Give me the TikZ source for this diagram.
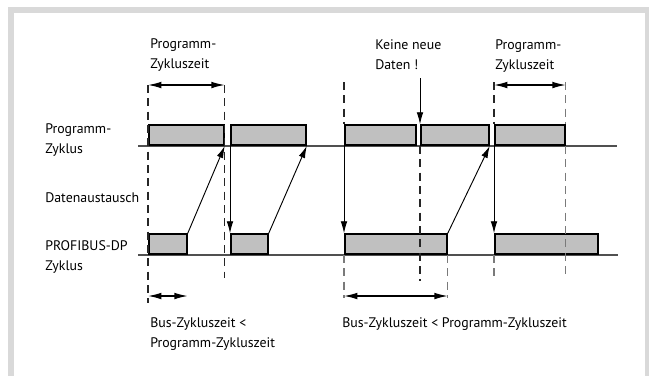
\documentclass[tikz,border=0pt]{standalone}
\usepackage{fontspec}
\setmainfont{PT Sans}
\usepackage{tikz}
\usetikzlibrary{arrows.meta, positioning}
\definecolor{FrameGray}{HTML}{D9D9D9}
\definecolor{BoxGray}{HTML}{C0C0C0}
\definecolor{AxisGray}{HTML}{505050}
\definecolor{GuideGray}{HTML}{7A7A7A}

\begin{document}
\begin{tikzpicture}[x=0.75pt, y=-0.75pt,
    cycbox/.style={draw=black, line width=1.3pt, fill=BoxGray, inner sep=0pt,
        minimum height=15pt, minimum width=#1*0.75pt, anchor=south west},
    timeline/.style={AxisGray, line width=0.8pt},
    guide/.style={dash pattern=on 6pt off 4pt, line width=0.8pt, black!85},
    guidelight/.style={guide, GuideGray},
    flow/.style={-{Latex[length=9pt, width=5pt]}, line width=0.7pt},
    span/.style={{Latex[length=10pt, width=5pt]}-{Latex[length=10pt, width=5pt]}, line width=1pt},
    lbl/.style={font=\fontsize{10.4}{15.5}\selectfont, align=left, anchor=north west, inner sep=0pt}]

    % page frame: grey band on top, left and right
    \useasboundingbox (0,0) rectangle (649,376);
    \fill[FrameGray] (8,7) rectangle (649,376);
    \fill[white] (14,13) rectangle (645,376);

    % === time lines ===
    \draw[timeline] (138,146) -- (617,146);
    \draw[timeline] (138,255) -- (618,255);

    % === Programm-Zyklus (upper row) ===
    \node[cycbox=75] (prg1) at (148,146) {};
    \node[cycbox=75] (prg2) at (230,146) {};
    \node[cycbox=71] (prg3) at (344,146) {};
    \node[cycbox=68] (prg4) at (420,146) {};
    \node[cycbox=70] (prg5) at (494,146) {};

    % === PROFIBUS-DP Zyklus (lower row) ===
    \node[cycbox=38] (bus1) at (148,255) {};
    \node[cycbox=37] (bus2) at (230,255) {};
    \node[cycbox=102] (bus3) at (344,255) {};
    \node[cycbox=103] (bus4) at (494,255) {};

    % === dashed guides ===
    \draw[guide] (prg1.south west |- 0,85) -- (prg1.south west |- 0,303);
    \draw[guide] (prg1.south east |- 0,85) -- (prg1.south east |- 0,278);
    \draw[guide] (prg3.north west |- 0,82) -- (prg3.north west);
    \draw[guidelight] (bus3.south west) -- (bus3.south west |- 0,298);
    \draw[guide] (prg4.south west) -- (prg4.south west |- 0,281);
    \draw[guidelight] (bus3.south east) -- (bus3.south east |- 0,298);
    \draw[guide] (prg5.north west |- 0,82) -- (prg5.north west);
    \draw[guidelight] (bus4.south west) -- (bus4.south west |- 0,276);
    \draw[guidelight] (prg5.north east |- 0,82) -- (prg5.north east);
    \draw[guidelight] (prg5.south east) -- (prg5.south east |- 0,276);

    % === data exchange ===
    \draw[flow] (prg2.south west) -- (bus2.north west);
    \draw[flow] (prg3.south west) -- (bus3.north west);
    \draw[flow] (prg5.south west) -- (bus4.north west);
    \draw[flow] (bus1.north east) -- (prg1.south east);
    \draw[flow] (bus2.north east) -- (prg2.south east);
    \draw[flow] (bus3.north east) -- (prg4.south east);

    % === times ===
    \draw[span] (prg1.north west |- 0,85) -- (prg1.north east |- 0,85);
    \draw[span] (prg5.north west |- 0,85) -- (prg5.north east |- 0,85);
    \draw[span] (bus1.south west |- 0,296) -- (bus1.south east |- 0,296);
    \draw[span] (bus3.south west |- 0,296) -- (bus3.south east |- 0,296);

    % === labels ===
    \node[lbl] (zeitA) at (150,38) {Programm-\\Zykluszeit};
    \node[lbl] (keine) at (375,39) {Keine neue\\Daten !};
    \node[lbl] (zeitB) at (495,39) {Programm-\\Zykluszeit};
    \node[lbl] (lblprg) at (45,123) {Programm-\\Zyklus};
    \node[lbl] (lbldat) at (45,192) {Datenaustausch};
    \node[lbl] (lblbus) at (45,240) {PROFIBUS-DP\\Zyklus};
    \node[lbl] (busA) at (150,317) {Bus-Zykluszeit <\\Programm-Zykluszeit};
    \node[lbl] (busB) at (342,317) {Bus-Zykluszeit < Programm-Zykluszeit};

    \draw[flow] ([yshift=-6pt]keine.south -| prg4.north west) -- (prg4.north west);

\end{tikzpicture}
\end{document}
